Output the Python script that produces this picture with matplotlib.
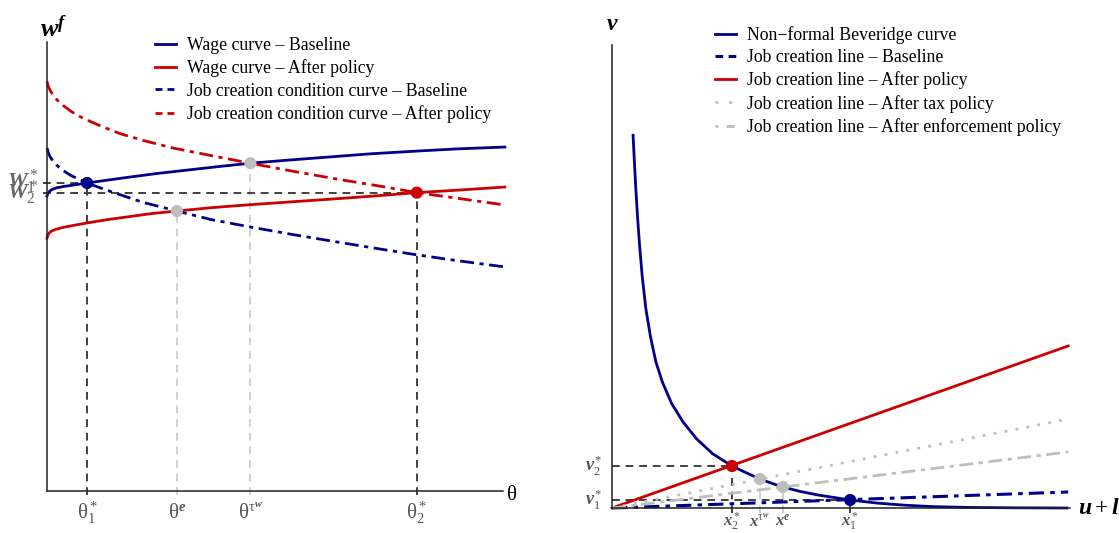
import matplotlib
matplotlib.use("Agg")
import matplotlib.pyplot as plt
import numpy as np

plt.rcParams['font.family'] = ['Liberation Serif', 'DejaVu Serif']
plt.rcParams['mathtext.fontset'] = 'custom'
plt.rcParams['mathtext.rm'] = 'Liberation Serif'
plt.rcParams['mathtext.it'] = 'Liberation Serif:italic'
plt.rcParams['mathtext.bf'] = 'Liberation Serif:bold'
plt.rcParams['mathtext.bfit'] = 'Liberation Serif:italic:bold'

BLUE = '#00008B'
RED = '#CC0000'
GRAY = '#BEBEBE'
DARK = '#404040'
LIGHT = '#D0D0D0'
LAB = '#555555'

# ---- left panel: wage curves and job creation condition curves (theta, w^f)
wage_base_x = [0, 0.02, 0.05, 0.1, 0.2, 0.35, 0.55, 0.88, 1.3, 1.8, 2.4, 3.1, 3.8, 4.46,
               5.3, 6.2, 7.1, 8.1, 9.0, 10.04]
wage_base_y = [6.57, 6.63, 6.67, 6.71, 6.75, 6.78, 6.81, 6.86, 6.92, 6.99, 7.07, 7.15, 7.23, 7.30,
               7.37, 7.44, 7.51, 7.57, 7.62, 7.66]

wage_pol_x = [0, 0.02, 0.05, 0.1, 0.2, 0.35, 0.55, 0.88, 1.3, 1.8, 2.3, 2.85, 3.6, 4.5,
              5.5, 6.5, 7.3, 8.11, 9.0, 10.04]
wage_pol_y = [5.63, 5.70, 5.75, 5.79, 5.83, 5.87, 5.91, 5.97, 6.04, 6.11, 6.18, 6.235, 6.31, 6.38,
              6.45, 6.52, 6.58, 6.645, 6.70, 6.77]

jcc_base_x = [0, 0.03, 0.07, 0.13, 0.22, 0.35, 0.52, 0.7, 0.88, 1.2, 1.6, 2.1, 2.85, 3.6,
              4.46, 5.4, 6.4, 7.3, 8.11, 9.0, 10.04]
jcc_base_y = [7.64, 7.53, 7.44, 7.35, 7.25, 7.14, 7.03, 6.94, 6.86, 6.74, 6.60, 6.43, 6.235, 6.045,
              5.88, 5.71, 5.54, 5.39, 5.26, 5.13, 4.99]

jcc_pol_x = [0, 0.03, 0.07, 0.13, 0.22, 0.35, 0.52, 0.7, 0.88, 1.2, 1.6, 2.1, 2.76, 3.6,
             4.46, 5.4, 6.4, 7.3, 8.11, 9.0, 10.04]
jcc_pol_y = [9.12, 9.01, 8.92, 8.82, 8.71, 8.59, 8.46, 8.35, 8.26, 8.12, 7.96, 7.81, 7.64, 7.47,
             7.30, 7.12, 6.94, 6.79, 6.645, 6.52, 6.37]

eq_theta = [0.88, 2.85, 4.46, 8.11]          # theta1*, theta^e, theta^tau_w, theta2*
eq_wage = [6.86, 6.235, 7.30, 6.645]
eq_color = [BLUE, GRAY, GRAY, RED]
eq_line = [DARK, LIGHT, LIGHT, DARK]
theta_labels = [r'$\mathrm{θ}_1^*$', r'$\mathrm{θ}^{\mathbfit{e}}$',
                r'$\mathrm{θ}^{\mathrm{τ}^{\mathbfit{w}}}$', r'$\mathrm{θ}_2^*$']

# ---- right panel: Beveridge curve and job creation lines (u + l^i, v)
bev_x = [0.46, 0.49, 0.52, 0.56, 0.60, 0.66, 0.74, 0.84, 0.96, 1.10, 1.30, 1.55, 1.85, 2.20,
         2.62, 2.90, 3.23, 3.50, 3.73, 4.10, 4.50, 5.20, 5.80, 6.40, 7.00, 7.80, 8.80, 9.93]
bev_y = [8.05, 7.45, 6.90, 6.25, 5.70, 5.00, 4.30, 3.70, 3.15, 2.72, 2.26, 1.86, 1.49, 1.17,
         0.907, 0.775, 0.626, 0.53, 0.454, 0.36, 0.28, 0.173, 0.105, 0.06, 0.03, 0.012, 0.004, 0.0]

line_x = [0, 9.96]
jc_base = [0, 0.346]
jc_pol = [0, 3.50]
jc_tax = [0, 1.92]
jc_enf = [0, 1.21]

eq_x = [2.62, 3.23, 3.73, 5.20]               # x2*, x^tau_w, x^e, x1*
eq_v = [0.907, 0.626, 0.454, 0.173]
eq_xcolor = [RED, GRAY, GRAY, BLUE]
eq_xline = [DARK, LIGHT, LIGHT, DARK]
x_labels = [r'$\mathbfit{x}_2^*$', r'$\mathbfit{x}^{\mathrm{τ}^{\mathbfit{w}}}$',
            r'$\mathbfit{x}^{\mathbfit{e}}$', r'$\mathbfit{x}_1^*$']

fig = plt.figure(figsize=(11.19, 5.33), dpi=100)
W, H = 1119, 533
ax1 = fig.add_axes([47 / W, (H - 491) / H, 456 / W, 449 / H])
ax2 = fig.add_axes([612 / W, (H - 508) / H, 458 / W, 463 / H])

for ax in (ax1, ax2):
    ax.set_xlim(0, 10)
    ax.set_ylim(0, 10)
    ax.spines['top'].set_visible(False)
    ax.spines['right'].set_visible(False)
    ax.spines['left'].set_color('#222222')
    ax.spines['bottom'].set_color('#222222')
    ax.spines['left'].set_linewidth(1.1)
    ax.spines['bottom'].set_linewidth(1.1)
    ax.set_xticks([])
    ax.set_yticks([])
    ax.patch.set_alpha(0)

dd = (0, (5, 2, 1.5, 2))
blk = (0, (4, 3))

# left
for i in range(4):
    ax1.plot([eq_theta[i], eq_theta[i]], [-0.09, eq_wage[i]], color=eq_line[i],
             lw=1.4, ls=blk, clip_on=False, zorder=1)
    if eq_line[i] == DARK:
        ax1.plot([-0.09, eq_theta[i]], [eq_wage[i], eq_wage[i]], color=DARK,
                 lw=1.4, ls=blk, clip_on=False, zorder=1)
    ax1.text(eq_theta[i], -0.49, theta_labels[i], ha='center', va='center',
             fontsize=15, color=LAB)

ax1.plot(wage_base_x, wage_base_y, color=BLUE, lw=2, clip_on=False,
         label='Wage curve – Baseline')
ax1.plot(wage_pol_x, wage_pol_y, color=RED, lw=2, clip_on=False,
         label='Wage curve – After policy')
ax1.plot(jcc_base_x, jcc_base_y, color=BLUE, lw=2, ls=dd, clip_on=False,
         label='Job creation condition curve – Baseline')
ax1.plot(jcc_pol_x, jcc_pol_y, color=RED, lw=2, ls=dd, clip_on=False,
         label='Job creation condition curve – After policy')
ax1.scatter(eq_theta, eq_wage, s=60, c=eq_color, zorder=5, clip_on=False)

ax1.text(-0.2, 6.88, r'$\mathbfit{W}_1^*$', ha='right', va='center', fontsize=16, color='#666666')
ax1.text(-0.2, 6.64, r'$\mathbfit{W}_2^*$', ha='right', va='center', fontsize=16, color='#666666')
ax1.text(0.15, 10.3, r'$\mathbfit{w}^{\mathbfit{f}}$', ha='center', va='center', fontsize=19)
ax1.text(10.09, -0.09, 'θ', ha='left', va='center', fontsize=15)

leg1 = fig.legend(handles=ax1.get_lines()[-4:], loc='upper left',
                  bbox_to_anchor=(155 / W, 1 - 37 / H), frameon=False, fontsize=12.8,
                  handlelength=1.2, handletextpad=0.6, labelspacing=0.3,
                  borderpad=0, borderaxespad=0)
for ln in leg1.get_lines()[2:]:
    ln.set_linestyle((0, (2.5, 1.8)))

# right
for i in range(4):
    ax2.plot([eq_x[i], eq_x[i]], [-0.1, eq_v[i]], color=eq_xline[i],
             lw=1.4, ls=blk, clip_on=False, zorder=1)
    ax2.text(eq_x[i], -0.3, x_labels[i], ha='center', va='center',
             fontsize=12, color=LAB)
for i in (0, 3):
    ax2.plot([0, eq_x[i]], [eq_v[i], eq_v[i]], color=DARK, lw=1.4, ls=blk,
             clip_on=False, zorder=1)
ax2.text(-0.2, eq_v[0], r'$\mathbfit{v}_2^*$', ha='right', va='center', fontsize=13, color=LAB)
ax2.text(-0.2, eq_v[3], r'$\mathbfit{v}_1^*$', ha='right', va='center', fontsize=13, color=LAB)

ax2.plot(bev_x, bev_y, color=BLUE, lw=2, clip_on=False, label='Non−formal Beveridge curve')
ax2.plot(line_x, jc_base, color=BLUE, lw=2.2, ls=dd, clip_on=False,
         label='Job creation line – Baseline')
ax2.plot(line_x, jc_pol, color=RED, lw=2, clip_on=False,
         label='Job creation line – After policy')
ax2.plot(line_x, jc_tax, color=GRAY, lw=2, ls=(0, (1, 3)), clip_on=False,
         label='Job creation line – After tax policy')
ax2.plot(line_x, jc_enf, color=GRAY, lw=2, ls=dd, clip_on=False,
         label='Job creation line – After enforcement policy')
ax2.scatter(eq_x, eq_v, s=60, c=eq_xcolor, zorder=5, clip_on=False)

ax2.text(0, 10.45, r'$\mathbfit{v}$', ha='center', va='center', fontsize=17)
ax2.text(10.17, 0, r'$\mathbfit{u} + \mathbfit{l}^{\mathbfit{i}}$', ha='left', va='center', fontsize=17)

leg2 = fig.legend(handles=ax2.get_lines()[-5:], loc='upper left',
                  bbox_to_anchor=(715 / W, 1 - 26 / H), frameon=False, fontsize=12.8,
                  handlelength=1.2, handletextpad=0.6, labelspacing=0.3,
                  borderpad=0, borderaxespad=0)
leg2_lines = leg2.get_lines()
leg2_lines[1].set_linestyle((0, (2.5, 1.8)))
leg2_lines[3].set_linestyle((0, (1, 4)))
leg2_lines[4].set_linestyle((0, (1, 3, 3, 1)))

fig.savefig('out.png', dpi=100)
